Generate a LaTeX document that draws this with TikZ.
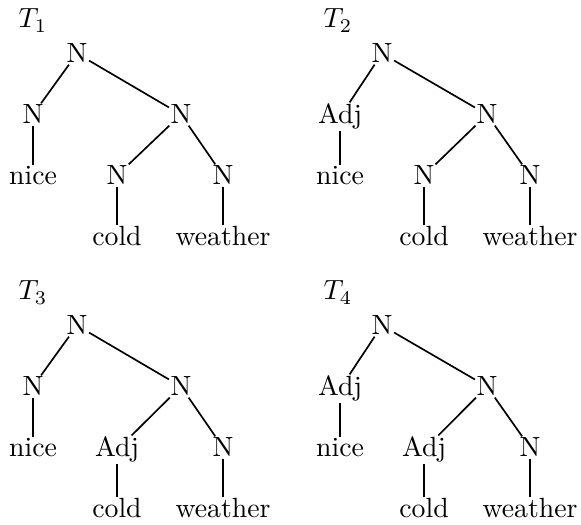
\documentclass[tikz,border=0pt]{standalone}
\begin{document}
\begin{tikzpicture}[x=0.36pt,y=-0.36pt,
  lab/.style={anchor=base,inner sep=0.6pt,outer sep=0pt},
  tlab/.style={anchor=base west,inner sep=0pt},
  edge/.style={line width=0.6pt}]
\useasboundingbox (0,0) rectangle (581,525);
% T1
\begin{scope}[shift={(0,0)}]
\node[tlab] (t1) at (18,28) {$T_1$};
\node[lab] (a0) at (77,63) {N};
\node[lab] (a1) at (33,124) {N};
\node[lab] (a2) at (33,185) {nice};
\node[lab] (a3) at (181,124) {N};
\node[lab] (a4) at (117,185) {N};
\node[lab] (a5) at (223,185) {N};
\node[lab] (a6) at (117,246) {cold};
\node[lab] (a7) at (223,246) {weather};
\draw[edge] (a0) -- (a1); \draw[edge] (a1) -- (a2);
\draw[edge] (a0) -- (a3); \draw[edge] (a3) -- (a4); \draw[edge] (a3) -- (a5);
\draw[edge] (a4) -- (a6); \draw[edge] (a5) -- (a7);
\end{scope}
% T2
\node[tlab] (t2) at (323,28) {$T_2$};
\node[lab] (b0) at (382,63) {N};
\node[lab] (b1) at (340,124) {Adj};
\node[lab] (b2) at (340,185) {nice};
\node[lab] (b3) at (487,124) {N};
\node[lab] (b4) at (424,185) {N};
\node[lab] (b5) at (530,185) {N};
\node[lab] (b6) at (424,246) {cold};
\node[lab] (b7) at (530,246) {weather};
\draw[edge] (b0) -- (b1); \draw[edge] (b1) -- (b2);
\draw[edge] (b0) -- (b3); \draw[edge] (b3) -- (b4); \draw[edge] (b3) -- (b5);
\draw[edge] (b4) -- (b6); \draw[edge] (b5) -- (b7);
% T3
\node[tlab] (t3) at (18,300) {$T_3$};
\node[lab] (c0) at (77,335) {N};
\node[lab] (c1) at (33,396) {N};
\node[lab] (c2) at (33,457) {nice};
\node[lab] (c3) at (181,396) {N};
\node[lab] (c4) at (117,457) {Adj};
\node[lab] (c5) at (223,457) {N};
\node[lab] (c6) at (117,518) {cold};
\node[lab] (c7) at (223,518) {weather};
\draw[edge] (c0) -- (c1); \draw[edge] (c1) -- (c2);
\draw[edge] (c0) -- (c3); \draw[edge] (c3) -- (c4); \draw[edge] (c3) -- (c5);
\draw[edge] (c4) -- (c6); \draw[edge] (c5) -- (c7);
% T4
\node[tlab] (t4) at (323,300) {$T_4$};
\node[lab] (d0) at (382,335) {N};
\node[lab] (d1) at (340,396) {Adj};
\node[lab] (d2) at (340,457) {nice};
\node[lab] (d3) at (487,396) {N};
\node[lab] (d4) at (424,457) {Adj};
\node[lab] (d5) at (530,457) {N};
\node[lab] (d6) at (424,518) {cold};
\node[lab] (d7) at (530,518) {weather};
\draw[edge] (d0) -- (d1); \draw[edge] (d1) -- (d2);
\draw[edge] (d0) -- (d3); \draw[edge] (d3) -- (d4); \draw[edge] (d3) -- (d5);
\draw[edge] (d4) -- (d6); \draw[edge] (d5) -- (d7);
\end{tikzpicture}
\end{document}
